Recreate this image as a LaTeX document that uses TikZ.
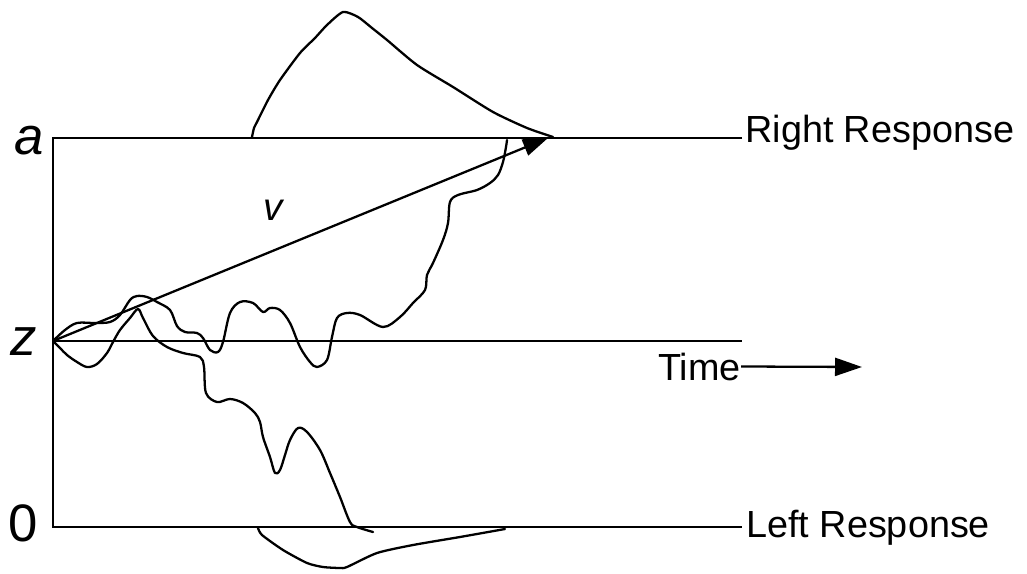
\documentclass[tikz,border=0pt]{standalone}
\usepackage{fontspec}
\setmainfont{Liberation Sans}
\usetikzlibrary{arrows.meta}
\tikzset{
  bound/.style={line width=1.3pt},
  trace/.style={line width=1.3pt,line join=round,line cap=round},
  drift/.style={-{Triangle[length=5mm,width=3.4mm]},line width=1.3pt},
  timearrow/.style={-{Triangle[length=5.4mm,width=3.6mm]},line width=1.3pt},
  parlabel/.style={font=\fontsize{30}{30}\selectfont,inner sep=0pt},
  resplabel/.style={font=\fontsize{21.5}{24}\selectfont,inner sep=0pt}
}
\begin{document}
\begin{tikzpicture}[x=0.02cm,y=-0.02cm]
  \useasboundingbox (0,0) rectangle (1027,574);
  % boundaries and start point
  \coordinate (atop) at (53,138);
  \coordinate (aend) at (742,138);
  \coordinate (zstart) at (53,341);
  \coordinate (zend) at (742,341);
  \coordinate (lbot) at (53,527);
  \coordinate (lend) at (742,527);
  \coordinate (vtip) at (548,138);
  \coordinate (tend) at (862,367);
  \node[parlabel,anchor=base east] (alab) at (44,155) {\itshape a};
  \node[parlabel,anchor=base east] (zlab) at (37,355) {\itshape z};
  \node[parlabel,anchor=base east] (olab) at (38,541) {0};
  \node[resplabel,anchor=base west] (right) at (745,143) {Right Response};
  \node[resplabel,anchor=base west] (left) at (746,537) {Left Response};
  \node[resplabel,anchor=base east] (time) at (741,380) {Time};
  \node[font=\fontsize{22}{22}\selectfont\itshape,inner sep=0pt,anchor=base west] (vlab) at (263,220) {v};
  \draw[bound] (aend) -- (atop) -- (lbot) -- (lend);
  \draw[bound] (zstart) -- (zend);
  \draw[timearrow] (time.east) -- (tend);
  % sample paths
  \draw[trace] plot[smooth,tension=0.55] coordinates {
    (53,341) (65,330) (77,323) (95,323) (110,322) (120,315) (130,300)
    (137,296) (147,297) (157,302) (170,310) (177,326) (185,332) (197,333)
    (203,338) (210,350) (218,352) (223,342) (230,313) (240,302) (253,303)
    (263,312) (270,308) (280,310) (290,323) (300,347) (310,362) (317,367)
    (327,360) (332,337) (337,318) (347,313) (360,315) (383,327) (400,317)
    (413,303) (425,290) (427,275) (433,263) (443,240) (448,223) (450,202)
    (458,195) (477,190) (490,183) (498,175) (503,162) (506,147) (507,140)};
  \draw[trace] plot[smooth,tension=0.55] coordinates {
    (53,341) (60,348) (67,355) (77,362) (87,367) (97,364) (107,353)
    (113,342) (120,330) (130,318) (138,309) (143,318) (153,336) (167,347)
    (183,353) (200,357) (204,367) (206,393) (217,402) (230,399) (243,403)
    (255,413) (260,422) (263,437) (270,457) (275,473) (280,470) (285,455)
    (290,440) (298,428) (307,432) (320,450) (330,473) (340,497) (350,522)
    (357,527) (373,532)};
  % response time distributions
  \draw[trace] plot[smooth,tension=0.4] coordinates {
    (252,137) (254,128) (257,122) (268,100) (280,80) (300,53) (315,38)
    (327,25) (343,12) (358,17) (372,28) (387,40) (417,65) (453,87)
    (493,112) (527,128) (553,137)};
  \draw[trace] plot[smooth,tension=0.4] coordinates {
    (258,528) (262,535) (283,550) (307,563) (323,567) (340,568) (347,567)
    (377,553) (413,545) (460,537) (505,529)};
  % drift rate
  \draw[drift] (zstart) -- (vtip);
\end{tikzpicture}
\end{document}
